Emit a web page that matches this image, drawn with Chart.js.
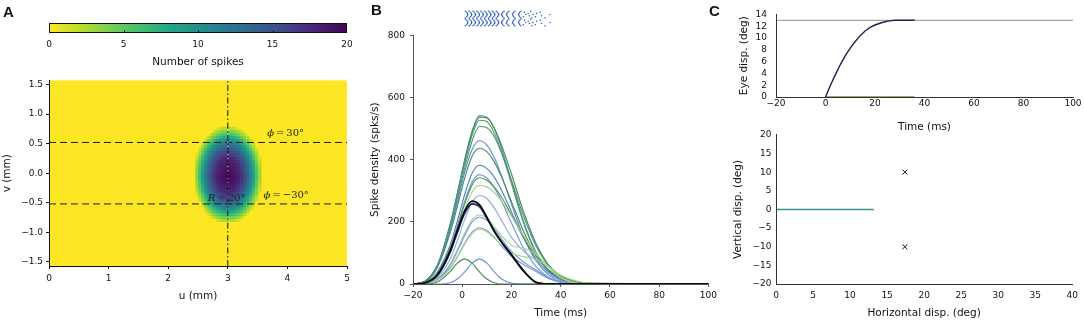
<!DOCTYPE html>
<html>
<head>
<meta charset="utf-8">
<script src="https://cdn.jsdelivr.net/npm/chart.js@4.4.1/dist/chart.umd.min.js"></script>
<style>
  body { margin: 0; background: #fff; }
  #fig { position: relative; width: 1084px; height: 321px; overflow: hidden; }
  #fig canvas { position: absolute; }
  .panel { position: absolute; font: bold 15px "Liberation Sans", Arial, sans-serif; line-height: 15px; color: #111; }
</style>
</head>
<body>
<div id="fig">
  <canvas id="cbar" width="360" height="56" style="left:0;top:15px"></canvas>
  <canvas id="heat" width="360" height="249" style="left:0;top:72px"></canvas>
  <canvas id="dens" width="360" height="296" style="left:360px;top:25px"></canvas>
  <canvas id="raster" width="298" height="25" style="left:413px;top:6px"></canvas>
  <canvas id="eyeT" width="364" height="135" style="left:720px;top:0"></canvas>
  <canvas id="eyeXY" width="364" height="196" style="left:720px;top:125px"></canvas>
  <div class="panel" style="left:3px;top:4px">A</div>
  <div class="panel" style="left:371px;top:2px">B</div>
  <div class="panel" style="left:709px;top:3px">C</div>
</div>
<script>
// ---- panel A: colliculus activity map ----
const cbarTicks = [0, 5, 10, 15, 20];
const uTicks = [0, 1, 2, 3, 4, 5];
const vTicks = [-1.5, -1, -0.5, 0, 0.5, 1, 1.5];
const uRange = [0, 5];
const vRange = [-1.57, 1.57];
const phiV = [0.52, -0.52];          // phi = +-30 deg iso-lines
const centerU = 3;                   // R = 20 deg iso-line
const blobCenter = [3, -0.02];
const blobHalf = [0.57, 0.82];
const blobDist = [0, 0.35, 0.55, 0.7, 0.85, 0.95, 1.0];
const blobCount = [20, 18, 14.5, 10.5, 5.5, 2.5, 1];

// ---- panel B: spike densities + raster ----
const densityTimes = [-20, -15, -10, -5, -2, 1, 4, 7, 10, 13, 16, 20, 25, 30, 35, 40, 45, 50, 100];
const rateBlack = [0, 4, 30, 105, 172, 235, 267, 255, 215, 170, 135, 95, 42, 5, 0, 0, 0, 0, 0];
const rateNavy  = [0, 4, 28, 100, 165, 227, 258, 249, 212, 170, 134, 92, 40, 6, 0, 0, 0, 0, 0];
const rate545 = [0, 10, 62, 190, 292, 400, 492, 542, 537, 500, 436, 331, 200, 102, 44, 15, 5, 0, 0];
const rate540 = [0, 10, 62, 188, 290, 397, 488, 537, 534, 502, 446, 354, 230, 130, 62, 26, 9, 2, 0];
const rate530 = [0, 9, 60, 185, 284, 389, 478, 527, 523, 486, 424, 322, 194, 99, 42, 15, 5, 0, 0];
const rate510 = [0, 9, 58, 178, 273, 374, 460, 507, 503, 474, 421, 334, 217, 122, 59, 24, 9, 2, 0];
const rate461 = [0, 8, 58, 171, 263, 360, 433, 461, 447, 407, 348, 257, 150, 74, 30, 11, 3, 0, 0];
const rate437 = [0, 7, 55, 162, 249, 341, 411, 437, 426, 393, 344, 265, 168, 92, 43, 17, 6, 0, 0];
const rate382 = [0, 5, 40, 124, 202, 288, 356, 382, 372, 344, 301, 232, 147, 80, 38, 15, 5, 0, 0];
const rate352 = [0, 5, 37, 114, 187, 266, 328, 352, 341, 310, 266, 196, 114, 56, 23, 8, 2, 0, 0];
const rate342 = [0, 5, 36, 111, 181, 258, 319, 342, 334, 312, 279, 222, 149, 89, 46, 21, 9, 3, 0];
const rate318 = [0, 5, 33, 103, 169, 240, 296, 318, 312, 294, 266, 218, 155, 99, 56, 28, 13, 5, 0];
const rate285 = [0, 4, 22, 79, 139, 207, 263, 285, 275, 245, 204, 150, 105, 75, 35, 10, 2, 0, 0];
const rate223 = [0, 3, 17, 62, 110, 163, 207, 222, 212, 185, 155, 125, 115, 95, 55, 20, 5, 0, 0];
const rate215 = [0, 3, 16, 59, 105, 156, 199, 215, 205, 178, 145, 105, 70, 45, 20, 6, 1, 0, 0];
const rate181 = [0, 2, 14, 50, 88, 131, 167, 181, 172, 150, 122, 90, 62, 40, 18, 5, 0, 0, 0];
const rate176 = [0, 2, 13, 48, 86, 128, 162, 176, 168, 148, 125, 100, 88, 80, 55, 22, 6, 0, 0];
const rate80a = [0, 0, 7, 39, 67, 80, 67, 39, 16, 4, 0, 0, 0, 0, 0, 0, 0, 0, 0];
const rate80b = [0, 0, 0, 4, 16, 39, 67, 80, 67, 39, 16, 3, 0, 0, 0, 0, 0, 0, 0];
const timeTicks = [-20, 0, 20, 40, 60, 80, 100];
const rateTicks = [0, 200, 400, 600, 800];
const rasterRows = [
  [0, 1.6, 3.2, 4.8, 6.4, 8, 9.6, 11.2, 12.8, 16, 18, 20.5, 23, 27],
  [0.5, 2.1, 3.7, 5.3, 6.9, 8.5, 10.1, 11.7, 13.3, 15.5, 17.5, 20, 22.5, 24.5, 31],
  [0.9, 2.5, 4.1, 5.7, 7.3, 8.9, 10.5, 12.1, 13.7, 15.2, 17.2, 19.7, 22.2, 26, 29.5],
  [1, 2.6, 4.2, 5.8, 7.4, 9, 10.6, 12.2, 13.8, 15, 17, 19.5, 22, 25, 28, 35],
  [0.9, 2.5, 4.1, 5.7, 7.3, 8.9, 10.5, 12.1, 13.7, 15.2, 17.2, 19.7, 22.2, 26.5, 31.5],
  [0.5, 2.1, 3.7, 5.3, 6.9, 8.5, 10.1, 11.7, 13.3, 15.5, 17.5, 20, 22.5, 24, 29],
  [0, 1.6, 3.2, 4.8, 6.4, 8, 9.6, 11.2, 12.8, 16, 18, 20.5, 23, 27.5, 33]
];

// ---- panel C: eye movement ----
const eyeTimes = [0, 2, 4, 6, 8, 10, 12, 14, 16, 18, 20, 22, 24, 26, 28, 30, 33, 36];
const eyeHoriz = [0, 2.0, 3.8, 5.5, 7.0, 8.3, 9.4, 10.4, 11.2, 11.8, 12.2, 12.5, 12.75, 12.9, 13.0, 13.0, 13.0, 13.0];
const eyeVert  = [0, 0, 0, 0, 0, 0, 0, 0, 0, 0, 0, 0, 0, 0, 0, 0, 0, 0];
const targetAmp = 13;
const eyeDispTicks = [0, 2, 4, 6, 8, 10, 12, 14];
const trajH = [0, 13.2];
const trajV = [0, 0];
const targetH = [17.4, 17.4];
const targetV = [10, -10];
const hTicks = [0, 5, 10, 15, 20, 25, 30, 35, 40];
const vDispTicks = [-20, -15, -10, -5, 0, 5, 10, 15, 20];

Chart.defaults.font.family = "DejaVu Sans";
Chart.defaults.animation = false;
Chart.defaults.responsive = false;
Chart.defaults.plugins.legend.display = false;
Chart.defaults.plugins.tooltip.enabled = false;

const tickFont = { family: "DejaVu Sans", size: 9 };
const titleFont = { family: "DejaVu Sans", size: 10.5 };
const fmt = (v) => String(v).replace("-", "\u2212");

function linAxis(min, max, ticks, o) {
  return {
    type: "linear", min: min, max: max,
    afterBuildTicks: (ax) => { ax.ticks = ticks.map((v) => ({ value: v })); },
    afterFit: o.fit,
    grid: { drawOnChartArea: false, drawTicks: o.tickLen > 0, tickLength: o.tickLen || 0, color: o.spine },
    border: { display: true, color: o.spine, width: 1, z: 1 },
    ticks: { font: tickFont, color: "#111", padding: o.pad, autoSkip: false, maxRotation: 0, callback: o.fmt || fmt },
    title: { display: true, text: o.title, font: titleFont, color: "#111", padding: o.titlePad },
  };
}

const viridisStops = ["#440154", "#482475", "#414487", "#355f8d", "#2a788e", "#21918c",
  "#22a884", "#44bf70", "#7ad151", "#bddf26", "#fde725"];
function hexRgb(h) { return [1, 3, 5].map((i) => parseInt(h.substr(i, 2), 16)); }
function viridis(t) {
  t = Math.min(1, Math.max(0, t));
  const p = t * 10, i = Math.min(9, Math.floor(p)), f = p - i;
  const a = hexRgb(viridisStops[i]), b = hexRgb(viridisStops[i + 1]);
  return "rgb(" + a.map((c, k) => Math.round(c + (b[k] - c) * f)).join(",") + ")";
}
const countColor = (c) => viridis(1 - c / 20);
function interp(xs, ys, x) {
  for (let i = 1; i < xs.length; i++) {
    if (x <= xs[i]) return ys[i - 1] + (ys[i] - ys[i - 1]) * (x - xs[i - 1]) / (xs[i] - xs[i - 1]);
  }
  return ys[ys.length - 1];
}

// colour bar
new Chart(document.getElementById("cbar"), {
  type: "scatter",
  data: { datasets: [] },
  options: {
    layout: { padding: { left: 49, right: 13, top: 8, bottom: 0 } },
    scales: {
      x: {
        type: "linear", min: 0, max: 20,
        afterBuildTicks: (ax) => { ax.ticks = cbarTicks.map((v) => ({ value: v })); },
        afterFit: (ax) => { ax.height = 38; },
        grid: { display: false, drawTicks: false }, border: { display: false },
        ticks: { font: tickFont, color: "#111", padding: 6, maxRotation: 0 },
        title: { display: true, text: "Number of spikes", font: titleFont, color: "#111", padding: { top: 0, bottom: 2 } },
      },
      y: { display: false, min: 0, max: 1 },
    },
  },
  plugins: [{
    id: "cbarFill",
    beforeDraw(chart) {
      const { ctx, chartArea: a, scales: { x } } = chart;
      const g = ctx.createLinearGradient(x.getPixelForValue(0), 0, x.getPixelForValue(20), 0);
      for (let k = 0; k <= 20; k++) g.addColorStop(k / 20, countColor(k));
      ctx.save();
      ctx.fillStyle = g;
      ctx.fillRect(a.left, a.top, a.width, a.height);
      ctx.strokeStyle = "#111";
      ctx.lineWidth = 1;
      ctx.strokeRect(a.left + 0.5, a.top + 0.5, a.width - 1, a.height - 1);
      cbarTicks.slice(1, -1).forEach((v) => {
        const px = Math.round(x.getPixelForValue(v)) + 0.5;
        ctx.beginPath(); ctx.moveTo(px, a.bottom); ctx.lineTo(px, a.bottom - 2.5); ctx.stroke();
      });
      ctx.restore();
    },
  }],
});

// activity map
function drawMath(ctx, x, y, parts) {
  let w = 0;
  parts.forEach(([t, it]) => { ctx.font = (it ? "italic " : "") + '10px "DejaVu Serif"'; w += ctx.measureText(t).width; });
  let cx = x - w / 2;
  parts.forEach(([t, it]) => {
    ctx.font = (it ? "italic " : "") + '10px "DejaVu Serif"';
    ctx.fillText(t, cx, y);
    cx += ctx.measureText(t).width;
  });
}
const mapLabels = [
  { u: 3.97, v: 0.67, parts: [["\u03d5", true], ["\u2009=\u200930\u00b0", false]] },
  { u: 3.98, v: -0.37, parts: [["\u03d5", true], ["\u2009=\u2009\u221230\u00b0", false]] },
  { u: 2.98, v: -0.42, parts: [["R", true], ["\u2009=\u200920\u00b0", false]] },
];

new Chart(document.getElementById("heat"), {
  type: "scatter",
  data: {
    datasets: [
      { data: vRange.map((v) => ({ x: centerU, y: v })), borderColor: "#111", borderDash: [6, 2.5, 1.5, 2.5] },
      { data: [{ x: centerU, y: blobCenter[1] + blobHalf[1] }, { x: centerU, y: blobCenter[1] - blobHalf[1] }],
        borderColor: "#ffffff", borderDash: [1, 3] },
      ...phiV.map((v) => ({ data: uRange.map((u) => ({ x: u, y: v })), borderColor: "#1a1a1a", borderDash: [7, 4] })),
    ].map((d) => Object.assign({ showLine: true, pointRadius: 0, borderWidth: 1 }, d)),
  },
  options: {
    layout: { padding: { left: 0, right: 13, top: 8, bottom: 0 } },
    scales: {
      x: linAxis(uRange[0], uRange[1], uTicks, {
        fit: (ax) => { ax.height = 55; }, tickLen: 3, pad: 4, spine: "#111",
        title: "u (mm)", titlePad: { top: 0, bottom: 18 },
      }),
      y: linAxis(vRange[0], vRange[1], vTicks, {
        fit: (ax) => { ax.width = 49; }, tickLen: 3, pad: 3, spine: "#111",
        title: "v (mm)", titlePad: { top: 1, bottom: 0 },
        fmt: (v) => v.toFixed(1).replace("-", "\u2212"),
      }),
    },
  },
  plugins: [{
    id: "heatmap",
    beforeDraw(chart) {
      const { ctx, chartArea: a, scales: { x, y } } = chart;
      ctx.save();
      ctx.fillStyle = countColor(0);
      ctx.fillRect(a.left, a.top, a.width, a.height);
      const step = 0.05;
      for (let u = blobCenter[0] - blobHalf[0]; u <= blobCenter[0] + blobHalf[0]; u += step) {
        for (let v = blobCenter[1] - blobHalf[1]; v <= blobCenter[1] + blobHalf[1]; v += step) {
          const d = Math.hypot((u - blobCenter[0]) / blobHalf[0], (v - blobCenter[1]) / blobHalf[1]);
          if (d >= 1) continue;
          ctx.fillStyle = countColor(interp(blobDist, blobCount, d));
          const x0 = x.getPixelForValue(u - step / 2), x1 = x.getPixelForValue(u + step / 2);
          const y0 = y.getPixelForValue(v - step / 2), y1 = y.getPixelForValue(v + step / 2);
          ctx.fillRect(x0, y1, x1 - x0 + 0.6, y0 - y1 + 0.6);
        }
      }
      ctx.restore();
    },
    afterDatasetsDraw(chart) {
      const { ctx, scales: { x, y } } = chart;
      ctx.save();
      ctx.fillStyle = "#222";
      ctx.textBaseline = "middle";
      mapLabels.forEach((l) => drawMath(ctx, x.getPixelForValue(l.u), y.getPixelForValue(l.v), l.parts));
      ctx.restore();
    },
  }],
});

// spike densities
const densitySeries = [rateBlack, rateNavy, rate80a, rate80b, rate176, rate181, rate215, rate223, rate285,
  rate318, rate342, rate352, rate382, rate437, rate461, rate510, rate530, rate540, rate545];
const densityColors = ["#0a0a0a", "#1e2c78", "#3f8f55", "#6b8fd6", "#a5d18c", "#7a9ad8", "#7598dc", "#a8d490", "#8fa9e6",
  "#9fcf8a", "#4a9552", "#6f93d8", "#4f7fb8", "#3f8e6a", "#5d86cf", "#4e8f8a", "#55a05a", "#3d8f4c", "#4f86b8"];
const densityWidths = densitySeries.map((s) => (s === rateBlack ? 1.8 : s === rateNavy ? 1.6 : 1.1));

new Chart(document.getElementById("dens"), {
  type: "line",
  data: {
    datasets: densitySeries.map((vals, i) => ({
      data: densityTimes.map((t, j) => ({ x: t, y: vals[j] })),
      borderColor: densityColors[i], borderWidth: densityWidths[i],
      pointRadius: 0, cubicInterpolationMode: "monotone", clip: false,
    })),
  },
  options: {
    layout: { padding: { left: 0, right: 9, top: 6, bottom: 0 } },
    scales: {
      x: linAxis(-20, 100, timeTicks, {
        fit: (ax) => { ax.height = 37; }, tickLen: 3, pad: 3, spine: "#555",
        title: "Time (ms)", titlePad: { top: 0, bottom: 1 },
      }),
      y: linAxis(0, 800, rateTicks, {
        fit: (ax) => { ax.width = 53; }, tickLen: 3, pad: 5, spine: "#555",
        title: "Spike density (spks/s)", titlePad: { top: 9, bottom: 0 },
      }),
    },
  },
});

// raster (two target sets, same trial pattern)
const rasterPts = [];
[0, 1].forEach((band) => {
  rasterRows.forEach((row, r) => {
    row.forEach((t) => rasterPts.push({ x: t, y: 14 - band * 7 - r }));
  });
});
new Chart(document.getElementById("raster"), {
  type: "scatter",
  data: { datasets: [{ data: rasterPts, pointRadius: 0.75, borderWidth: 0, backgroundColor: "#2d5ac8" }] },
  options: {
    layout: { padding: 0 },
    scales: { x: { display: false, min: -20, max: 100 }, y: { display: false, min: 0, max: 15 } },
  },
});

// eye displacement vs time
new Chart(document.getElementById("eyeT"), {
  type: "scatter",
  data: {
    datasets: [
      { data: eyeTimes.map((t, i) => ({ x: t, y: eyeHoriz[i] })), borderColor: "#2a1b55", borderWidth: 1.4 },
      { data: eyeTimes.map((t, i) => ({ x: t, y: eyeVert[i] })), borderColor: "#8c8a2c", borderWidth: 1.3 },
      { data: [-20, 100].map((t) => ({ x: t, y: targetAmp })), borderColor: "#a6a6a6", borderWidth: 1.3 },
    ].map((d) => Object.assign({ showLine: true, pointRadius: 0, clip: false }, d)),
  },
  options: {
    layout: { padding: { left: 0, right: 11, top: 6, bottom: 0 } },
    scales: {
      x: linAxis(-20, 100, timeTicks, {
        fit: (ax) => { ax.height = 38; }, tickLen: 0, pad: 1, spine: "#333",
        title: "Time (ms)", titlePad: { top: 0, bottom: 1 },
      }),
      y: linAxis(0, 14, eyeDispTicks, {
        fit: (ax) => { ax.width = 56; }, tickLen: 0, pad: 9, spine: "#333",
        title: "Eye disp. (deg)", titlePad: { top: 18, bottom: 0 },
      }),
    },
  },
});

// eye trajectory
new Chart(document.getElementById("eyeXY"), {
  type: "scatter",
  data: {
    datasets: [
      { data: targetH.map((h, i) => ({ x: h, y: targetV[i] })), pointStyle: "crossRot", pointRadius: 3.5,
        borderColor: "#111", borderWidth: 1, showLine: false },
      { data: trajH.map((h, i) => ({ x: h, y: trajV[i] })), borderColor: "#3a8e8c", borderWidth: 1.4,
        showLine: true, pointRadius: 0 },
    ],
  },
  options: {
    layout: { padding: { left: 0, right: 11, top: 7, bottom: 0 } },
    scales: {
      x: linAxis(0, 40, hTicks, {
        fit: (ax) => { ax.height = 37; }, tickLen: 0, pad: 6, spine: "#333",
        title: "Horizontal disp. (deg)", titlePad: { top: 0, bottom: 1 },
      }),
      y: linAxis(-20, 20, vDispTicks, {
        fit: (ax) => { ax.width = 56; }, tickLen: 0, pad: 4.5, spine: "#333",
        title: "Vertical disp. (deg)", titlePad: { top: 12, bottom: 0 },
      }),
    },
  },
});
</script>
</body>
</html>
